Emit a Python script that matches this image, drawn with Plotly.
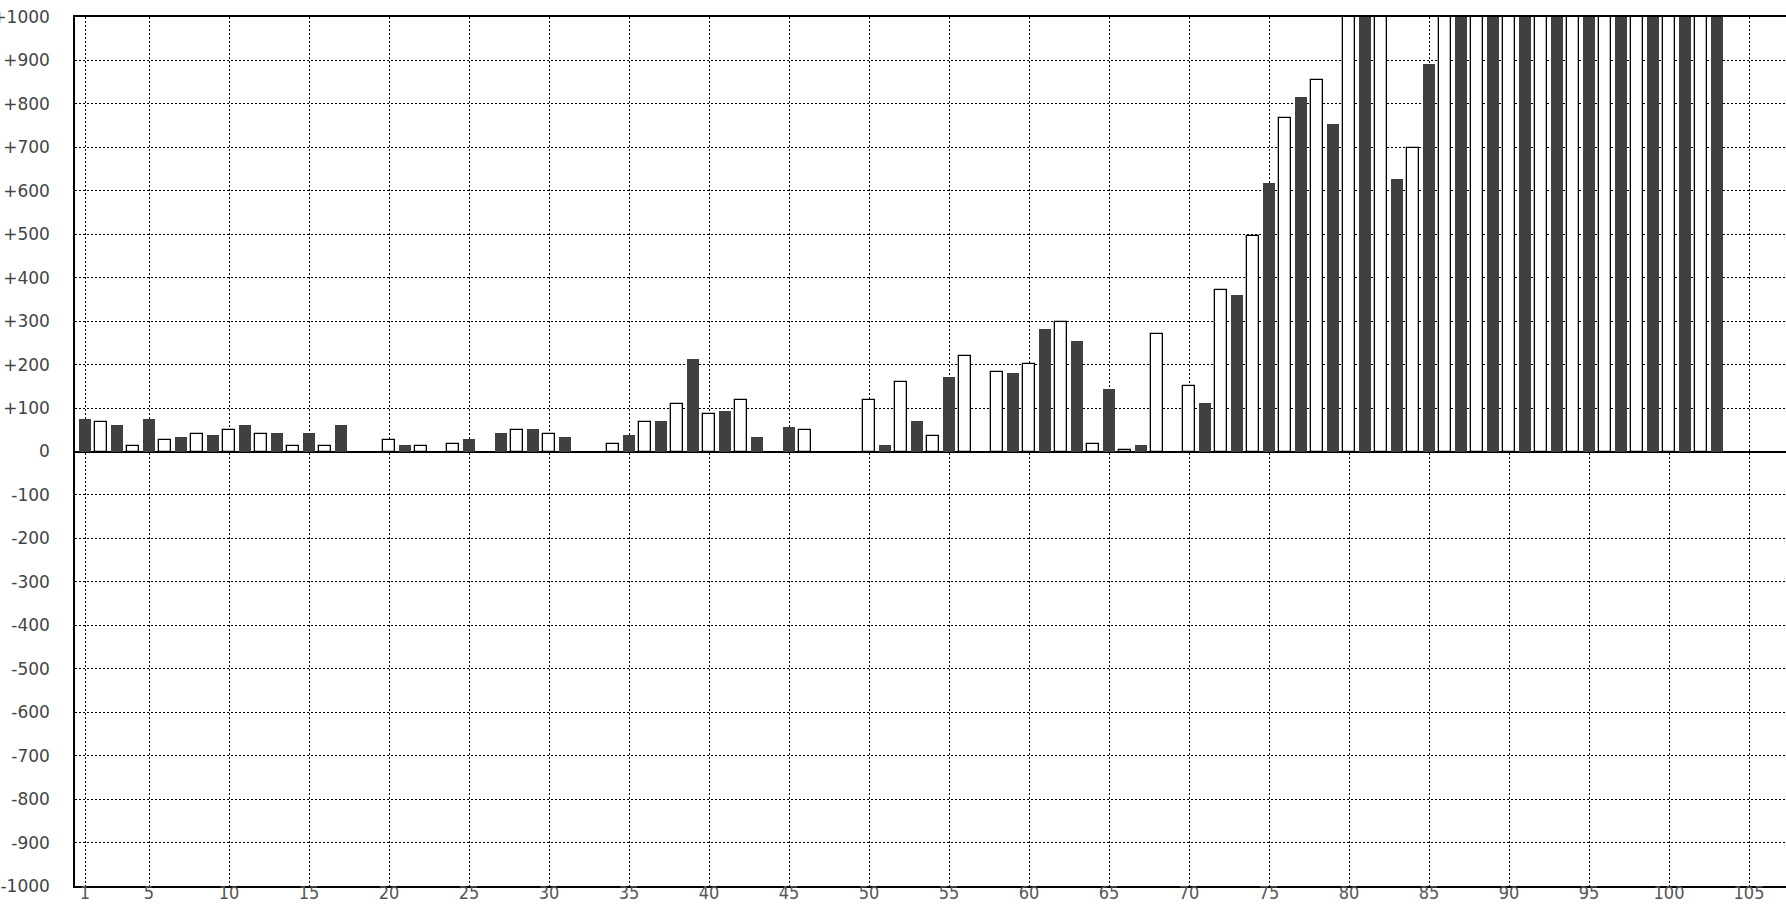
import plotly.graph_objects as go

# ---- data ----
positions = list(range(1, 104))
values = [
    75, 68, 61, 12, 75, 26, 34, 40, 38, 49,        # 1-10
    61, 40, 43, 12, 43, 12, 61, None, None, 26,    # 11-20
    15, 12, None, 17, 29, None, 43, 49, 52, 40,    # 21-30
    34, None, None, 17, 38, 68, 71, 109, 213, 86,  # 31-40
    94, 118, 34, None, 57, 49, None, None, None, 118,  # 41-50
    15, 160, 71, 35, 172, 220, None, 183, 181, 201,    # 51-60
    283, 298, 255, 17, 144, 4, 15, 270, None, 150,     # 61-70
    112, 372, 361, 496, 619, 768, 817, 856, 753, 1100, # 71-80
    1100, 1100, 628, 699, 891, 1100, 1100, 1100, 1100, 1100,  # 81-90
    1100, 1100, 1100, 1100, 1100, 1100, 1100, 1100, 1100, 1100,  # 91-100
    1100, 1100, 1100,                                  # 101-103
]
x_tick_vals = [1, 5, 10, 15, 20, 25, 30, 35, 40, 45, 50, 55,
               60, 65, 70, 75, 80, 85, 90, 95, 100, 105]
x_tick_text = [str(v) for v in x_tick_vals]
y_tick_vals = list(range(-1000, 1001, 100))
y_tick_text = [("+%d" % v if v > 0 else str(v)) for v in y_tick_vals]

# ---- styling ----
DARK = "#404040"
fill = [DARK if p % 2 == 1 else "#ffffff" for p in positions]
line_w = [0 if p % 2 == 1 else 1.3 for p in positions]

fig = go.Figure(
    go.Bar(
        x=positions,
        y=values,
        width=0.75,
        marker=dict(color=fill, line=dict(color="#000000", width=line_w)),
        hoverinfo="x+y",
    )
)

W, H = 1786, 906
ml, mt, mb = 75, 17, 20
px_per_unit = 16.0
x0 = 1 - (85 - ml) / px_per_unit
x1 = x0 + (W - ml) / px_per_unit

fig.update_layout(
    width=W,
    height=H,
    margin=dict(l=ml, r=0, t=mt, b=mb, pad=0, autoexpand=False),
    paper_bgcolor="#ffffff",
    plot_bgcolor="#ffffff",
    showlegend=False,
    bargap=0,
    xaxis=dict(
        range=[x0, x1],
        automargin=False,
        tickmode="array",
        tickvals=x_tick_vals,
        ticktext=x_tick_text,
        ticks="",
        showgrid=True,
        gridcolor="#000000",
        gridwidth=1,
        griddash="2px,2px",
        showline=True,
        linecolor="#000000",
        linewidth=1.5,
        mirror=True,
        zeroline=False,
        tickfont=dict(family="DejaVu Sans Condensed, Liberation Sans Narrow, DejaVu Sans",
                      size=18, color="#555555"),
        ticklabelstandoff=-10,
        fixedrange=True,
    ),
    yaxis=dict(
        range=[-1000, 1000],
        automargin=False,
        tickmode="array",
        tickvals=y_tick_vals,
        ticktext=y_tick_text,
        ticks="",
        showgrid=True,
        gridcolor="#000000",
        gridwidth=1,
        griddash="2px,2px",
        showline=True,
        linecolor="#000000",
        linewidth=1.5,
        zeroline=True,
        zerolinecolor="#000000",
        zerolinewidth=1.5,
        tickfont=dict(family="DejaVu Sans", size=17, color="#444444"),
        ticklabelstandoff=20,
        fixedrange=True,
    ),
)

fig.write_html(
    "out.html",
    config={"displayModeBar": False},
    post_script="document.body.style.margin='0';document.body.style.overflow='hidden';",
)
